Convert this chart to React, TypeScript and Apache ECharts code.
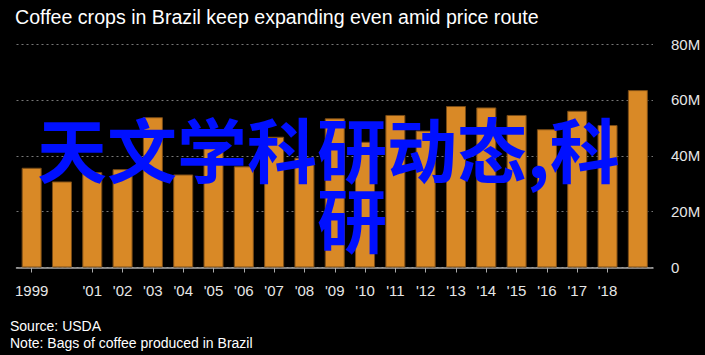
import React, { useEffect, useRef } from "react";
import * as echarts from "echarts";

const years = ["1999","2000","2001","2002","2003","2004","2005","2006","2007","2008","2009","2010","2011","2012","2013","2014","2015","2016","2017","2018","2019"];
const tickLabels = ["1999","","'01","'02","'03","'04","'05","'06","'07","'08","'09","'10","'11","'12","'13","'14","'15","'16","'17","'18",""];
const bags = [35.7,30.8,34.1,35.2,53.8,33.3,43.5,36.2,46.8,39.3,53.4,45.0,54.6,49.0,57.8,57.3,54.6,49.5,56.1,51.0,63.5];
const titleText = "Coffee crops in Brazil keep expanding even amid price route";
const sourceText = "Source: USDA";
const noteText = "Note: Bags of coffee produced in Brazil";
const overlayLine1 = "天文学科研动态,科";
const overlayLine2 = "研";

export default function App() {
  const ref = useRef<HTMLDivElement>(null);
  useEffect(() => {
    const chart = echarts.init(ref.current!, null, { renderer: "svg" });
    chart.setOption({
      animation: false,
      backgroundColor: "#000000",
      title: {
        text: titleText,
        left: 10,
        top: 2,
        textStyle: { color: "#ffffff", fontSize: 19.6, fontWeight: "normal", fontFamily: "Liberation Sans, Arial, sans-serif" },
      },
      grid: { left: 16.5, right: 52, top: 44, bottom: 87.5 },
      xAxis: {
        type: "category",
        data: years,
        boundaryGap: true,
        axisLine: { show: true, lineStyle: { color: "#aaaaaa", width: 1.5 } },
        axisTick: {
          show: true,
          alignWithLabel: true,
          length: 5,
          lineStyle: { color: "#aaaaaa" },
          interval: (i: number) => tickLabels[i] !== "",
        },
        axisLabel: {
          color: "#e6e6e6",
          fontSize: 15,
          margin: 15,
          fontFamily: "Liberation Sans, Arial, sans-serif",
          interval: 0,
          formatter: (_v: string, i: number) => tickLabels[i],
        },
        splitLine: { show: false },
      },
      yAxis: {
        type: "value",
        position: "right",
        min: 0,
        max: 80,
        interval: 20,
        axisLine: { show: false },
        axisTick: { show: false },
        axisLabel: {
          color: "#e6e6e6",
          fontSize: 15,
          margin: 18,
          fontFamily: "Liberation Sans, Arial, sans-serif",
          formatter: (v: number) => (v === 0 ? "0" : v + "M"),
        },
        splitLine: { show: true, lineStyle: { color: "#777777", type: [2, 3], width: 1 } },
      },
      series: [
        {
          type: "bar",
          data: bags,
          barWidth: 20,
          itemStyle: { color: "#d98926", borderColor: "#7a4c16", borderWidth: 1 },
        },
      ],
      graphic: [
        {
          type: "text",
          left: 10,
          top: 319,
          style: { text: sourceText, fill: "#ffffff", fontSize: 14, fontFamily: "Liberation Sans, Arial, sans-serif" },
        },
        {
          type: "text",
          left: 10,
          top: 336,
          style: { text: noteText, fill: "#ffffff", fontSize: 14, fontFamily: "Liberation Sans, Arial, sans-serif" },
        },
        {
          type: "text",
          x: 37,
          y: 112,
          z: 100,
          style: { text: overlayLine1, fill: "#0010ff", fontSize: 70, fontWeight: "bold", fontFamily: "Noto Sans CJK SC", textVerticalAlign: "top" },
        },
        {
          type: "text",
          x: 317,
          y: 182,
          z: 100,
          style: { text: overlayLine2, fill: "#0010ff", fontSize: 70, fontWeight: "bold", fontFamily: "Noto Sans CJK SC", textVerticalAlign: "top" },
        },
      ],
    });
    return () => chart.dispose();
  }, []);
  return <div ref={ref} style={{ position: "fixed", left: 0, top: 0, width: 705, height: 355 }} />;
}
